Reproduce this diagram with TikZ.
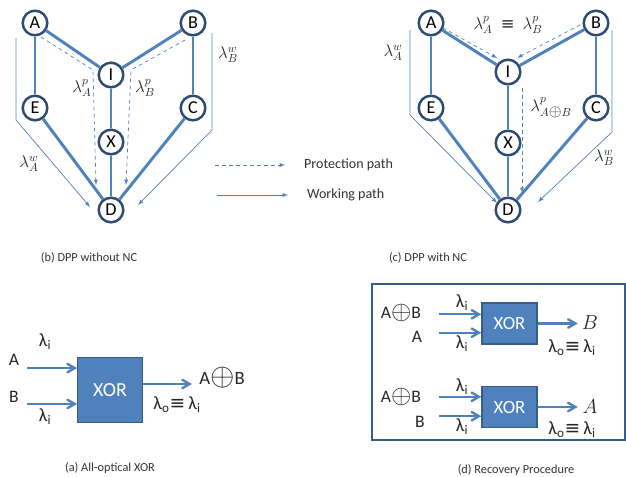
\documentclass[tikz,border=0pt]{standalone}
\usepackage{fontspec}
\setmainfont{Carlito}
\newfontfamily\symfont{DejaVu Sans}
\usepackage{tikz}
\usetikzlibrary{calc,arrows,positioning}
\definecolor{linkblue}{HTML}{4F81BD}
\definecolor{rimblue}{HTML}{385D8A}
\definecolor{siteblue}{HTML}{2E4B72}
\newcommand{\xsum}{\raisebox{-0.12ex}{\scalebox{1.55}{$\oplus$}}}
\newcommand{\lamsame}{λ\textsubscript{o}{\symfont ≡}\,λ\textsubscript{i}}
\tikzset{
   protect/.style={->,>=latex,draw=linkblue,dashed,line width=0.6pt},
   work/.style={->,>=latex,draw=linkblue,line width=0.6pt},
   feed/.style={->,>=angle 60,draw=linkblue,line width=2pt},
   xorbox/.style={rectangle,fill=linkblue,draw=rimblue,line width=1.2pt,text=white},
   lbl/.style={text=black!85,inner sep=0.5pt,font=\fontsize{14}{16}\selectfont},
   caption/.style={text=black!80,font=\fontsize{10.5}{12}\selectfont}
}

\begin{document}
\begin{tikzpicture}[x=0.03cm,y=-0.03cm,
                    site/.style={circle,draw=siteblue,line width=2.1pt,fill=white,inner sep=0pt,
                                 minimum size=21pt,font=\fontsize{15.5}{16}\selectfont},
                    link/.style={draw=linkblue,line width=2.5pt},
                    plain/.style={text=black!85,font=\fontsize{15}{17}\selectfont}]
\useasboundingbox (0,0) rectangle (626,476);
% (b) DPP without NC
\begin{scope}
\node[site] (A) at (35, 23)                {A};
\node[site] (B) at ($ (A) + (158, 0) $)    {B};
\node[site] (I) at ($ (A) + (76, 52) $)    {I};
\node[site] (E) at ($ (A) + (0, 85) $)     {E};
\node[site] (C) at ($ (B) + (0, 85) $)     {C};
\node[site] (X) at ($ (I) + (0, 67) $)     {X};
\node[site] (D) at ($ (X) + (0, 68) $)     {D};
%
\path[link]
  (A) edge (I)
  (B) edge (I)
  (A) edge (E)
  (B) edge (C)
  (I) edge (X)
  (X) edge (D)
  (E) edge (D)
  (C) edge (D)
  ;
%
\coordinate (pa0) at ($ (A) + (6, 14) $);
\coordinate (pa1) at ($ (I) + (-18, -5) $);
\coordinate (pa2) at ($ (D) + (-15, -25) $);
\coordinate (pb0) at ($ (B) + (-8, 17) $);
\coordinate (pb1) at ($ (I) + (20, -5) $);
\coordinate (pb2) at ($ (D) + (15, -25) $);
\draw[protect] (pa0) -- (pa1) -- (pa2);
\draw[protect] (pb0) -- (pb1) -- (pb2);
%
\coordinate (wa0) at ($ (A) + (-19, 15) $);
\coordinate (wa1) at ($ (A) + (-19, 97) $);
\coordinate (wa2) at ($ (D) + (-21, -3) $);
\coordinate (wb0) at ($ (B) + (19, 10) $);
\coordinate (wb1) at ($ (B) + (19, 107) $);
\coordinate (wb2) at ($ (D) + (27, -5) $);
\draw[work] (wa0) -- (wa1) -- (wa2);
\draw[work] (wb0) -- (wb1) -- (wb2);
%
\node[lbl] (lap) at (82, 88)  {$\lambda^p_A$};
\node[lbl] (lbp) at (145, 88) {$\lambda^p_B$};
\node[lbl] (law) at (29, 164) {$\lambda^w_A$};
\node[lbl] (lbw) at (228, 55) {$\lambda^w_B$};
\node[caption] (capb) at (89, 258) {(b) DPP without NC};
\end{scope}
%
% legend
\node[caption,font=\fontsize{12}{14}\selectfont,anchor=west] (tp) at (300, 165) {Protection path};
\node[caption,font=\fontsize{12}{14}\selectfont,anchor=west] (tw) at (303, 195) {Working path};
\coordinate (tp0) at ($ (tp.west) + (-85, 0) $);
\coordinate (tp1) at ($ (tp.west) + (-15, 0) $);
\coordinate (tw0) at ($ (tw.west) + (-86, 0) $);
\coordinate (tw1) at ($ (tw.west) + (-15, 0) $);
\draw[protect] (tp0) -- (tp1);
\draw[work] (tw0) -- (tw1);
%
% (c) DPP with NC
\begin{scope}
\node[site] (A) at (431, 23)               {A};
\node[site] (B) at ($ (A) + (165, 0) $)    {B};
\node[site] (I) at ($ (A) + (77, 49) $)    {I};
\node[site] (E) at ($ (A) + (0, 85) $)     {E};
\node[site] (C) at ($ (B) + (0, 85) $)     {C};
\node[site] (X) at ($ (I) + (0, 71) $)     {X};
\node[site] (D) at ($ (X) + (0, 67) $)     {D};
%
\path[link]
  (A) edge (I)
  (B) edge (I)
  (A) edge (E)
  (B) edge (C)
  (I) edge (X)
  (X) edge (D)
  (E) edge (D)
  (C) edge (D)
  ;
%
\coordinate (pa0) at ($ (A) + (12, 5) $);
\coordinate (pa1) at ($ (I) + (-11, -14) $);
\coordinate (pb0) at ($ (B) + (-16, 2) $);
\coordinate (pb1) at ($ (I) + (9, -14) $);
\coordinate (px0) at ($ (I) + (14, 16) $);
\coordinate (px1) at ($ (D) + (14, -17) $);
\draw[protect] (pa0) -- (pa1);
\draw[protect] (pb0) -- (pb1);
\draw[protect] (px0) -- (px1);
%
\coordinate (wa0) at ($ (A) + (-21, 7) $);
\coordinate (wa1) at ($ (A) + (-21, 92) $);
\coordinate (wa2) at ($ (D) + (-11, -7) $);
\coordinate (wb0) at ($ (B) + (16, 7) $);
\coordinate (wb1) at ($ (B) + (16, 109) $);
\coordinate (wb2) at ($ (D) + (30, -8) $);
\draw[work] (wa0) -- (wa1) -- (wa2);
\draw[work] (wb0) -- (wb1) -- (wb2);
%
\node[lbl] (lpp) at (508, 25) {$\lambda^p_A$\enspace{\symfont ≡}\enspace$\lambda^p_B$};
\node[lbl] (law) at (393, 53) {$\lambda^w_A$};
\node[lbl] (lxp) at (551, 108) {$\lambda^p_{A\scalebox{1.4}{$\scriptstyle\oplus$}B}$};
\node[lbl] (lbw) at (604, 158) {$\lambda^w_B$};
\node[caption] (capc) at (428, 258) {(c) DPP with NC};
\end{scope}
%
% (a) All-optical XOR
\node[xorbox,minimum width=55pt,minimum height=55pt,font=\fontsize{17}{19}\selectfont] (xa) at (110, 390) {XOR};
\coordinate (ia) at ($ (xa.north west) + (-50, 11) $);
\coordinate (ib) at ($ (xa.south west) + (-50, -19) $);
\coordinate (oa) at ($ (xa.east) + (49, -6) $);
\draw[feed] (ia) -- (ia -| xa.west);
\draw[feed] (ib) -- (ib -| xa.west);
\draw[feed] (oa -| xa.east) -- (oa);
\node[plain] (na) at (14, 360) {A};
\node[plain] (nb) at (14, 397) {B};
\node[plain,font=\fontsize{16}{18}\selectfont] (la1) at (45, 342) {λ\textsubscript{i}};
\node[plain,font=\fontsize{16}{18}\selectfont] (la2) at (45, 417) {λ\textsubscript{i}};
\node[plain,font=\fontsize{16}{18}\selectfont] (nab) at (222, 378) {A\xsum B};
\node[plain,font=\fontsize{16}{18}\selectfont] (lo) at (177, 405) {\lamsame};
\node[caption] (capa) at (110, 468) {(a) All-optical XOR};
%
% (d) Recovery Procedure
\draw[rimblue,line width=1.8pt] (372, 284) rectangle (625, 440);
\node[xorbox,minimum width=47pt,minimum height=35pt,font=\fontsize{16}{18}\selectfont] (x1) at (509.5, 323.5) {XOR};
\node[xorbox,minimum width=47pt,minimum height=35pt,font=\fontsize{16}{18}\selectfont] (x2) at (509.5, 407) {XOR};
\coordinate (i11) at ($ (x1.north west) + (-42, 12) $);
\coordinate (i12) at ($ (x1.south west) + (-42, -12) $);
\coordinate (i21) at ($ (x2.north west) + (-42, 11) $);
\coordinate (i22) at ($ (x2.south west) + (-42, -12) $);
\coordinate (o1) at ($ (x1.east) + (40, 0) $);
\coordinate (o2) at ($ (x2.east) + (40, 0) $);
\draw[feed] (i11) -- (i11 -| x1.west);
\draw[feed] (i12) -- (i12 -| x1.west);
\draw[feed] (i21) -- (i21 -| x2.west);
\draw[feed] (i22) -- (i22 -| x2.west);
\draw[feed] (x1) -- (o1);
\draw[feed] (x2) -- (o2);
%
\node[plain] (n11) at (401, 313) {A\xsum B};
\node[plain] (n12) at (417, 337) {A};
\node[plain] (n21) at (401, 397) {A\xsum B};
\node[plain] (n22) at (420, 422) {B};
\node[plain,font=\fontsize{16}{18}\selectfont] (l11) at (462, 303) {λ\textsubscript{i}};
\node[plain,font=\fontsize{16}{18}\selectfont] (l12) at (462, 344) {λ\textsubscript{i}};
\node[plain,font=\fontsize{16}{18}\selectfont] (l21) at (462, 387) {λ\textsubscript{i}};
\node[plain,font=\fontsize{16}{18}\selectfont] (l22) at (462, 427) {λ\textsubscript{i}};
\node[plain,font=\fontsize{17}{19}\selectfont] (r1) at (590, 323) {$B$};
\node[plain,font=\fontsize{17}{19}\selectfont] (r2) at (590, 407) {$A$};
\node[plain,font=\fontsize{16}{18}\selectfont] (lo1) at (572, 348) {\lamsame};
\node[plain,font=\fontsize{16}{18}\selectfont] (lo2) at (572, 430) {\lamsame};
\node[caption] (capd) at (516, 470) {(d) Recovery Procedure};
\end{tikzpicture}
\end{document}
